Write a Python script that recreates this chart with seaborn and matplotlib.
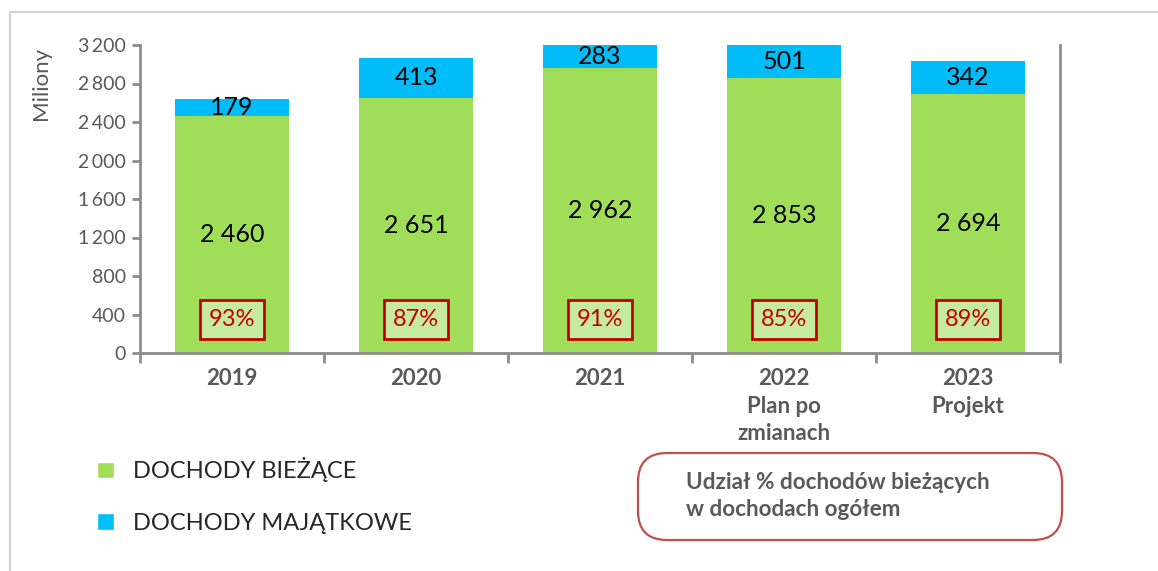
import matplotlib
matplotlib.use("Agg")
import matplotlib.pyplot as plt
import seaborn as sns
import pandas as pd
from matplotlib.patches import Patch, FancyBboxPatch, Rectangle
from matplotlib.ticker import FuncFormatter, FixedLocator

# data (mln zł)
years = ["2019", "2020", "2021", "2022\nPlan po\nzmianach", "2023\nProjekt"]
biezace = [2460, 2651, 2962, 2853, 2694]
majatkowe = [179, 413, 283, 501, 342]
udzial = [93, 87, 91, 85, 89]

GREEN = "#a0de5a"
BLUE = "#00bcf8"
GRAY = "#595959"
AXIS = "#8c8c8c"
RED = "#c00000"

sns.set_style("white")
plt.rcParams["font.family"] = ["Lato", "DejaVu Sans"]

df = pd.DataFrame({"rok": years, "biezace": biezace, "majatkowe": majatkowe})
df["razem"] = df["biezace"] + df["majatkowe"]

fig = plt.figure(figsize=(11.58, 5.71), dpi=100)
ax = fig.add_axes([140 / 1158, 1 - 353 / 571, 920 / 1158, 308 / 571])

# stacked bars: total in blue, current income in green on top of it
sns.barplot(data=df, x="rok", y="razem", color=BLUE, width=0.615, saturation=1,
            linewidth=0, ax=ax)
sns.barplot(data=df, x="rok", y="biezace", color=GREEN, width=0.615, saturation=1,
            linewidth=0, ax=ax)

ymax = 3200
ax.set_ylim(0, ymax)
ax.set_xlim(-0.5, len(years) - 0.5)
ax.yaxis.set_major_locator(FixedLocator(range(0, 3201, 400)))
ax.yaxis.set_major_formatter(FuncFormatter(lambda v, p: f"{int(v):,}".replace(",", "\u2009")))

fmt = lambda v: f"{v:,}".replace(",", " ")
for i, (g, b, pct) in enumerate(zip(biezace, majatkowe, udzial)):
    ax.text(i, g / 2, fmt(g), ha="center", va="center", fontsize=18, color="black")
    top = min(g + b, ymax)
    ax.text(i, (g + top) / 2, fmt(b), ha="center", va="center", fontsize=18, color="black")
    ax.text(i, 350, f"{pct}%", ha="center", va="center", fontsize=17, color=RED,
            bbox=dict(boxstyle="square,pad=0.38", fc="#c6eaa0", ec=RED, lw=2))

# axes styling
ax.spines["top"].set_visible(False)
for side in ["left", "bottom", "right"]:
    ax.spines[side].set_color(AXIS)
    ax.spines[side].set_linewidth(2)
ax.spines["right"].set_bounds(-60, ymax)

ax.tick_params(axis="y", length=6, width=2, color=AXIS, labelsize=14, labelcolor=GRAY, pad=4, left=True)
ax.tick_params(axis="x", which="major", length=0, labelsize=16, labelcolor=GRAY, pad=11)
ax.set_xticks([i - 0.5 for i in range(len(years) + 1)], minor=True)
ax.tick_params(axis="x", which="minor", length=7, width=2, color=AXIS, bottom=True)
for lab in ax.get_xticklabels():
    lab.set_fontweight("bold")
    lab.set_linespacing(1.38)
    lab.set_verticalalignment("top")

ax.set_xlabel("")
ax.set_ylabel("Miliony", fontsize=16, color=GRAY)
ax.yaxis.set_label_coords(-0.097, 0.875)

# legend
handles = [Patch(facecolor=GREEN, label="DOCHODY BIEŻĄCE"),
           Patch(facecolor=BLUE, label="DOCHODY MAJĄTKOWE")]
fig.legend(handles=handles, loc="upper left", bbox_to_anchor=(76 / 1158, 1 - 436 / 571),
           frameon=False, fontsize=17, handlelength=0.7, handleheight=0.7,
           handletextpad=0.8, labelspacing=1.3)

# box explaining the percentages
box = FancyBboxPatch((638 / 1158, 1 - 540 / 571), 424 / 1158, 87 / 571,
                     boxstyle="round,pad=0,rounding_size=0.025", transform=fig.transFigure,
                     fc="white", ec="#c0504d", lw=1.6, mutation_aspect=1158 / 571)
fig.patches.append(box)
fig.text(686 / 1158, 1 - 496 / 571, "Udział % dochodów bieżących\nw dochodach ogółem",
         fontsize=16.2, fontweight="bold", color=GRAY, va="center", ha="left", linespacing=1.3)

# outer frame of the picture
fig.patches.append(Rectangle((10 / 1158, -0.1), 1.2, 1.1 - 12 / 571, transform=fig.transFigure,
                             fill=False, ec="#c8c8c8", lw=1.2))

fig.savefig("out.png", dpi=100)
